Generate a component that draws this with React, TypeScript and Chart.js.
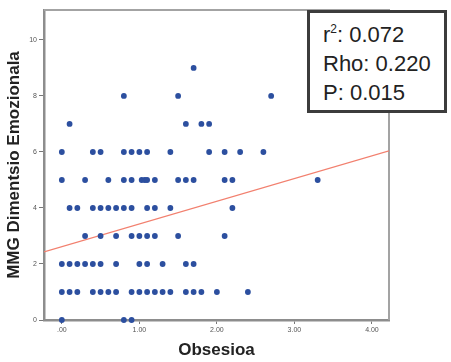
import React, { useEffect, useRef } from "react";
import { Chart, registerables } from "chart.js";

Chart.register(...registerables);

// Obsesioa (x) values, grouped by MMG Dimentsio Emozionala level (y)
const obsesioa = [
  1.7,
  0.8, 1.5, 2.7,
  0.1, 1.6, 1.8, 1.9,
  0.0, 0.4, 0.5, 0.8, 0.9, 1.0, 1.1, 1.4, 1.9, 2.1, 2.3, 2.6,
  0.0, 0.3, 0.6, 0.8, 0.9, 1.03, 1.07, 1.1, 1.2, 1.5, 1.6, 1.7, 2.1, 2.2, 3.3,
  0.1, 0.2, 0.4, 0.5, 0.6, 0.7, 0.8, 0.9, 1.1, 1.2, 1.4, 2.2,
  0.3, 0.5, 0.7, 0.9, 1.0, 1.1, 1.2, 1.5, 2.1,
  0.0, 0.1, 0.2, 0.3, 0.4, 0.5, 0.7, 1.0, 1.1, 1.3, 1.6, 1.7,
  0.0, 0.1, 0.2, 0.4, 0.5, 0.6, 0.7, 0.9, 1.0, 1.1, 1.2, 1.3, 1.4, 1.6, 1.7, 1.8, 2.0, 2.4,
  0.0, 0.8, 0.9,
];
const emozionala = [
  9,
  8, 8, 8,
  7, 7, 7, 7,
  6, 6, 6, 6, 6, 6, 6, 6, 6, 6, 6, 6,
  5, 5, 5, 5, 5, 5, 5, 5, 5, 5, 5, 5, 5, 5, 5,
  4, 4, 4, 4, 4, 4, 4, 4, 4, 4, 4, 4,
  3, 3, 3, 3, 3, 3, 3, 3, 3,
  2, 2, 2, 2, 2, 2, 2, 2, 2, 2, 2, 2,
  1, 1, 1, 1, 1, 1, 1, 1, 1, 1, 1, 1, 1, 1, 1, 1, 1, 1,
  0, 0, 0,
];

const xTickValues = [0, 1, 2, 3, 4];
const yTickValues = [0, 2, 4, 6, 8, 10];
const xRange = [-0.23, 4.22];
const yRange = [0, 11.07];
const fitIntercept = 2.62;
const fitSlope = 0.81;
const statLabels = ["r", "Rho", "P"];
const statValues = ["0.072", "0.220", "0.015"];

const framePlugin = {
  id: "frame",
  beforeDatasetsDraw(chart: any) {
    const { ctx, chartArea } = chart;
    ctx.save();
    ctx.strokeStyle = "#a3a3a3";
    ctx.lineWidth = 2;
    ctx.beginPath();
    ctx.moveTo(chartArea.left, chartArea.top);
    ctx.lineTo(chartArea.right, chartArea.top);
    ctx.lineTo(chartArea.right, chartArea.bottom);
    ctx.stroke();
    ctx.restore();
  },
};

export default function App() {
  const ref = useRef<HTMLCanvasElement | null>(null);

  useEffect(() => {
    if (!ref.current) return;
    const points = obsesioa.map((x, i) => ({ x, y: emozionala[i] }));
    const fit = xRange.map((x) => ({ x, y: fitIntercept + fitSlope * x }));
    const chart = new Chart(ref.current, {
      type: "scatter",
      data: {
        datasets: [
          {
            data: points,
            pointRadius: 2.9,
            pointBackgroundColor: "#2c4f9f",
            pointBorderWidth: 0,
            clip: false,
            order: 0,
          } as any,
          {
            type: "line",
            data: fit,
            borderColor: "#f2806f",
            borderWidth: 1.3,
            pointRadius: 0,
            fill: false,
            order: 1,
          } as any,
        ],
      },
      options: {
        animation: false,
        responsive: false,
        devicePixelRatio: 1,
        layout: { padding: { left: 0, top: 10, right: 62, bottom: 0 } },
        plugins: { legend: { display: false }, tooltip: { enabled: false } },
        scales: {
          x: {
            type: "linear",
            min: xRange[0],
            max: xRange[1],
            afterBuildTicks: (s: any) => {
              s.ticks = xTickValues.map((value) => ({ value }));
            },
            afterFit: (s: any) => {
              s.height = 42;
            },
            ticks: {
              font: { size: 7, family: "Liberation Sans" },
              color: "#555",
              padding: 2,
              maxRotation: 0,
              callback: (v: any) => (v === 0 ? ".00" : Number(v).toFixed(2)),
            },
            grid: { drawOnChartArea: false, drawTicks: true, tickLength: 4, color: "#777" },
            border: { display: true, color: "#8d8d8d", width: 2.5 },
            title: {
              display: true,
              text: "Obsesioa",
              color: "#222",
              font: { size: 17, weight: "bold", family: "Liberation Sans", lineHeight: 1.2 },
              padding: { top: 0, bottom: 1 },
            },
          },
          y: {
            type: "linear",
            min: yRange[0],
            max: yRange[1],
            afterBuildTicks: (s: any) => {
              s.ticks = yTickValues.map((value) => ({ value }));
            },
            afterFit: (s: any) => {
              s.width = 44;
            },
            ticks: {
              font: { size: 7, family: "Liberation Sans" },
              color: "#555",
              padding: 2,
            },
            grid: { drawOnChartArea: false, drawTicks: true, tickLength: 5, color: "#777" },
            border: { display: true, color: "#8d8d8d", width: 2.5 },
            title: {
              display: true,
              text: "MMG Dimentsio Emozionala",
              color: "#222",
              font: { size: 17, weight: "bold", family: "Liberation Sans", lineHeight: 1.2 },
              padding: { top: 4, bottom: 0 },
            },
          },
        },
      },
      plugins: [framePlugin],
    } as any);
    return () => chart.destroy();
  }, []);

  return (
    <div
      style={{
        position: "absolute",
        left: 0,
        top: 0,
        width: 451,
        height: 362,
        background: "#fff",
        overflow: "hidden",
      }}
    >
      <canvas ref={ref} width={451} height={362} style={{ display: "block" }} />
      <div
        style={{
          position: "absolute",
          left: 307,
          top: 10,
          width: 140,
          height: 103,
          boxSizing: "border-box",
          border: "3px solid #3c3c3c",
          background: "#fff",
          paddingLeft: 13,
          paddingTop: 7,
          fontFamily: "Liberation Sans, Arial, sans-serif",
          fontSize: 22,
          lineHeight: "29px",
          color: "#222",
        }}
      >
        {statLabels.map((lab, i) => (
          <div key={lab} style={{ whiteSpace: "nowrap" }}>
            {lab}
            {i === 0 ? (
              <sup style={{ fontSize: 12, lineHeight: 0, verticalAlign: "9px" }}>2</sup>
            ) : null}
            : {statValues[i]}
          </div>
        ))}
      </div>
    </div>
  );
}
